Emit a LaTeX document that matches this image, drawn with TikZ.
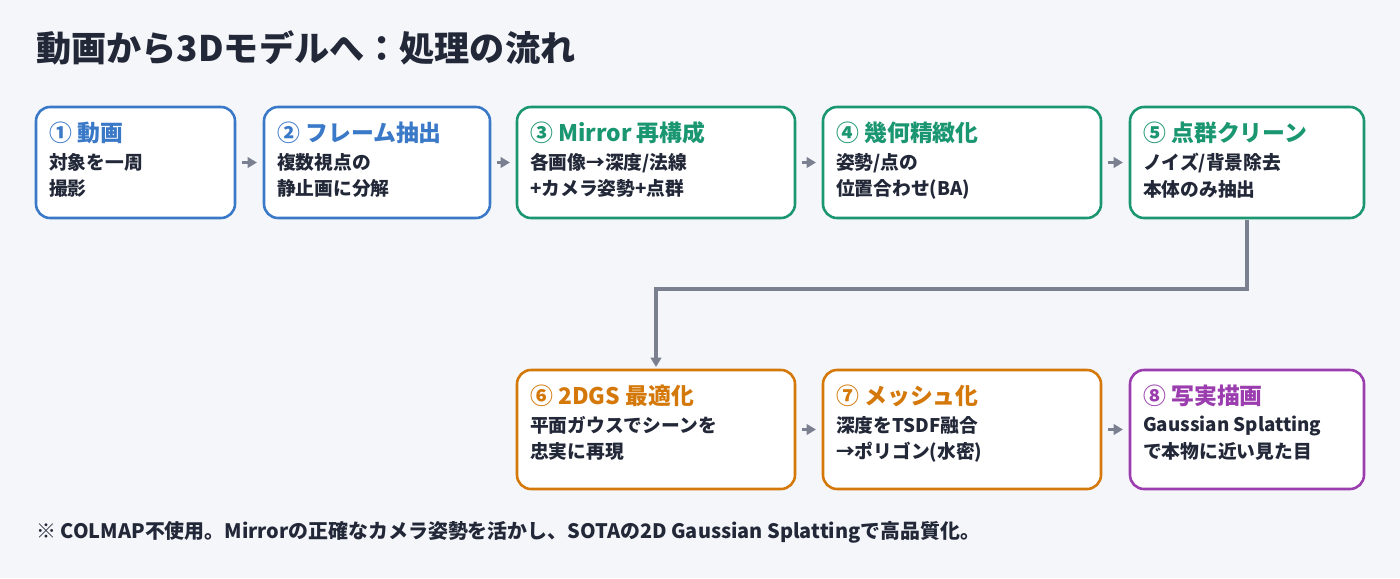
\documentclass[tikz,border=0pt]{standalone}
\usepackage{fontspec}
\setmainfont{Noto Sans CJK JP}
\usetikzlibrary{arrows.meta}
\definecolor{bg}{HTML}{F5F6FA}
\definecolor{cb}{HTML}{3A78C8}
\definecolor{cg}{HTML}{1A9670}
\definecolor{co}{HTML}{D4780A}
\definecolor{cp}{HTML}{9B3DAE}
\definecolor{tx}{HTML}{222838}
\definecolor{ar}{HTML}{7A8090}
\begin{document}
\begin{tikzpicture}[x=0.03cm,y=-0.03cm,
 box/.style={draw=#1,line width=2.2pt,fill=white,rounded corners=12pt},
 hd/.style={anchor=west,text=#1,font=\fontsize{19.5}{22}\selectfont\bfseries,inner sep=0},
 bd/.style={anchor=north west,text=tx,font=\fontsize{16}{22.5}\selectfont\bfseries,inner sep=0,align=left},
 arr/.style={draw=ar,line width=2.8pt,-{Triangle[length=8pt,width=9pt]}}]
\fill[bg] (0,0) rectangle (1400,578);
\useasboundingbox (0,0) rectangle (1400,578);
\node[anchor=west,text=tx,font=\fontsize{30}{34}\selectfont\bfseries,inner sep=0] (title) at (36,48) {動画から3Dモデルへ：処理の流れ};
\foreach \n/\a/\b/\c/\d/\col/\h/\t in {
 b1/36/107/235/218/cb/{① 動画}/{対象を一周\\撮影},
 b2/264/107/490/218/cb/{② フレーム抽出}/{複数視点の\\静止画に分解},
 b3/517/107/795/218/cg/{③ Mirror 再構成}/{各画像→深度/法線\\+カメラ姿勢+点群},
 b4/823/107/1101/218/cg/{④ 幾何精緻化}/{姿勢/点の\\位置合わせ(BA)},
 b5/1130/107/1364/218/cg/{⑤ 点群クリーン}/{ノイズ/背景除去\\本体のみ抽出},
 b6/517/370/795/489/co/{⑥ 2DGS 最適化}/{平面ガウスでシーンを\\忠実に再現},
 b7/823/370/1101/489/co/{⑦ メッシュ化}/{深度をTSDF融合\\→ポリゴン(水密)},
 b8/1130/370/1364/489/cp/{⑧ 写実描画}/{Gaussian Splatting\\で本物に近い見た目}}{
 \draw[box=\col] (\a,\b) rectangle (\c,\d);
 \coordinate (\n w) at (\a,{(\b+\d)/2});
 \coordinate (\n e) at (\c,{(\b+\d)/2});
 \node[hd=\col] (\n h) at (\a+13,\b+26) {\h};
 \node[bd] (\n t) at (\a+13,\b+46) {\t};
}
\draw[arr] ([xshift=6]b1e) -- ([xshift=-6]b2w);
\draw[arr] ([xshift=6]b2e) -- ([xshift=-6]b3w);
\draw[arr] ([xshift=6]b3e) -- ([xshift=-6]b4w);
\draw[arr] ([xshift=6]b4e) -- ([xshift=-6]b5w);
\draw[arr] ([xshift=6]b6e) -- ([xshift=-6]b7w);
\draw[arr] ([xshift=6]b7e) -- ([xshift=-6]b8w);
\coordinate (p1) at (1247,220);
\coordinate (p2) at (656,367);
\draw[arr] (p1) -- (1247,289) -- (656,289) -- (p2);
\node[anchor=west,text=tx,font=\fontsize{17}{20}\selectfont\bfseries,inner sep=0] (note) at (36,532) {※ COLMAP不使用。Mirrorの正確なカメラ姿勢を活かし、SOTAの2D Gaussian Splattingで高品質化。};
\end{tikzpicture}
\end{document}
